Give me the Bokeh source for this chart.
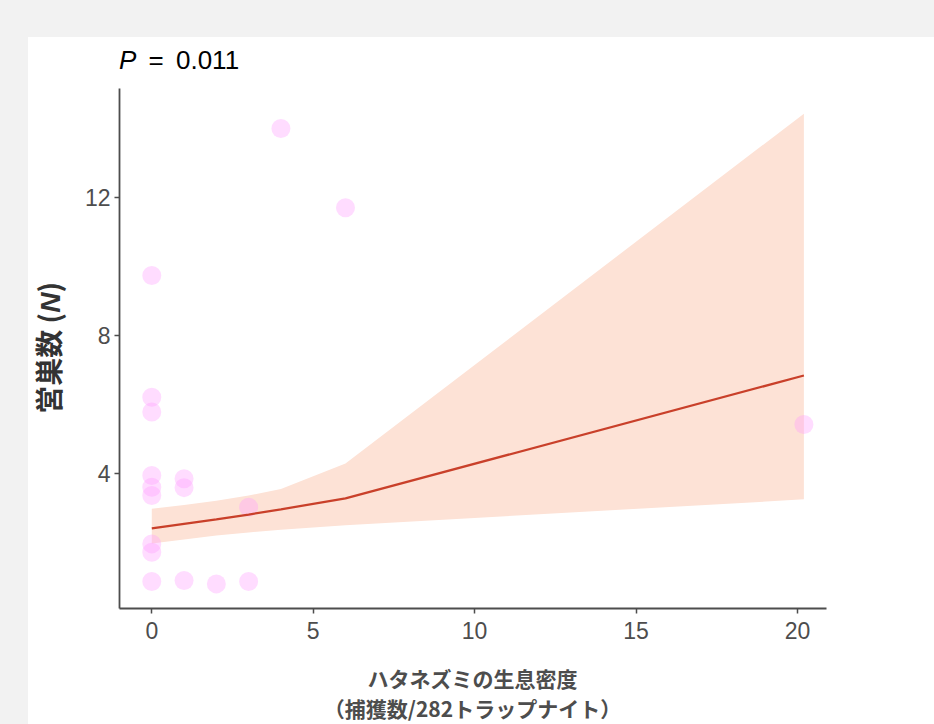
from bokeh.embed import file_html
from bokeh.layouts import column, row
from bokeh.models import ColumnDataSource, Div, FixedTicker, Range1d
from bokeh.plotting import figure
from bokeh.resources import INLINE

# Vole density (captures / 282 trap-nights) and nest counts per site
density = [0, 0, 0, 0, 0, 0, 0, 0, 0, 1, 1, 1, 2, 3, 3, 4, 6, 20.2]
nests = [9.74, 6.21, 5.78, 3.94, 3.60, 3.36, 1.96, 1.72, 0.87,
         3.85, 3.59, 0.90, 0.80, 3.02, 0.87, 14.0, 11.7, 5.42]

# Fitted model and its confidence band at the observed densities
fit_x = [0, 1, 2, 3, 4, 6, 20.2]
fit_y = [2.41, 2.54, 2.67, 2.81, 2.96, 3.28, 6.84]
fit_lower = [1.97, 2.09, 2.20, 2.29, 2.37, 2.50, 3.25]
fit_upper = [2.98, 3.09, 3.21, 3.36, 3.55, 4.29, 14.43]

x_ticks = [0, 5, 10, 15, 20]
y_ticks = [4, 8, 12]
p_value = "0.011"
x_title_1 = "ハタネズミの生息密度"
x_title_2 = "（捕獲数/282トラップナイト）"
y_title = "営巣数"
y_title_var = "N"

GREY = "#4d4d4d"
LATIN = "Liberation Sans"
CJK = "Noto Sans CJK JP"

plot = figure(
    frame_width=707, frame_height=520,
    x_range=Range1d(-1.0, 20.9), y_range=Range1d(0.087, 15.159),
    min_border_left=40, min_border_right=108,
    min_border_top=10, min_border_bottom=44,
    output_backend="svg", toolbar_location=None,
    background_fill_color="white", border_fill_color="white",
    outline_line_color=None, margin=0,
)
plot.grid.visible = False

band = ColumnDataSource(dict(x=fit_x, lower=fit_lower, upper=fit_upper, y=fit_y))
plot.varea(x="x", y1="lower", y2="upper", source=band, fill_color="#fde2d6")
plot.scatter(density, nests, size=19, fill_color="#ff99ff", fill_alpha=0.34, line_color=None)
plot.line(x="x", y="y", source=band, line_color="#c9402a", line_width=2.2)

for ax in (plot.xaxis[0], plot.yaxis[0]):
    ax.axis_line_color = GREY
    ax.axis_line_width = 1.8
    ax.major_tick_line_color = GREY
    ax.major_tick_line_width = 1.5
    ax.major_tick_out = 5
    ax.major_tick_in = 0
    ax.minor_tick_line_color = None
    ax.major_label_text_font = LATIN
    ax.major_label_text_font_size = "23px"
    ax.major_label_text_color = GREY
    ax.major_label_standoff = 4
plot.xaxis.major_label_standoff = 8
plot.xaxis.ticker = FixedTicker(ticks=x_ticks)
plot.yaxis.ticker = FixedTicker(ticks=y_ticks)

# Plot heading with italic P
heading = Div(
    text=(f'<div style="padding:8px 0 0 91px; font-family:\'{LATIN}\'; font-size:26px; '
          f'line-height:30px; word-spacing:5px; color:black; white-space:nowrap;">'
          f'<i>P</i> = {p_value}</div>'),
    width=906, height=41, margin=0,
)

# Rotated y-axis title with italic N
y_label = Div(
    text=(f'<div style="width:42px; height:540px; display:flex; align-items:center; '
          f'justify-content:center;"><span style="writing-mode:vertical-rl; '
          f'text-orientation:sideways; transform:rotate(180deg); font-family:\'{CJK}\'; '
          f'font-weight:bold; font-size:28px; color:#333333; white-space:nowrap;">'
          f'{y_title} (<i style="font-family:\'{LATIN}\';">{y_title_var}</i>)</span></div>'),
    width=51, height=646, margin=0,
)

# Two-line x-axis title, centred under the plotting area
x_label = Div(
    text=(f'<div style="margin-left:40px; width:707px; padding-top:11px; text-align:center; '
          f'font-family:\'{CJK}\'; font-weight:bold; font-size:21px; line-height:30px; '
          f'color:{GREY}; white-space:nowrap;">{x_title_1}<br>{x_title_2}</div>'),
    width=855, height=72, margin=0,
)

panel = column(heading, row(y_label, column(plot, x_label, margin=0), margin=0),
               margin=(37, 0, 0, 28), styles={"background-color": "white"})
page = column(panel, width=934, height=724, styles={"background-color": "#f2f2f2"})

open("out.html", "w").write(file_html(page, INLINE))
